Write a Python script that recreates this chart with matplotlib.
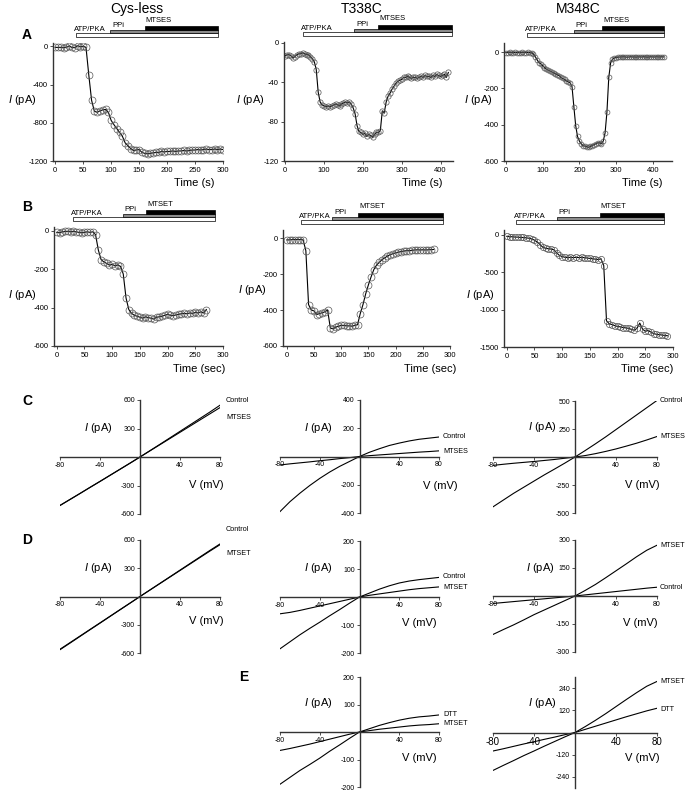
import matplotlib
matplotlib.use("Agg")
import matplotlib.pyplot as plt
from matplotlib.patches import Rectangle

plt.rcParams['font.family'] = ['Liberation Sans', 'DejaVu Sans']
plt.rcParams['mathtext.fontset'] = 'custom'
plt.rcParams['mathtext.it'] = 'Liberation Sans:italic'
plt.rcParams['mathtext.rm'] = 'Liberation Sans'
plt.rcParams['axes.unicode_minus'] = False

# ---------------- data: time courses ----------------
tA1 = list(range(0, 305, 5))
iA1 = [-10, -12, -10, -15, -8, 5, -12, -15, 8, -5, 0, -10, -300, -565, -680, -690, -675, -665,
       -660, -690, -775, -820, -860, -900, -940, -1010, -1040, -1070, -1090, -1085, -1080, -1110,
       -1120, -1125, -1120, -1115, -1110, -1110, -1100, -1105, -1100, -1100, -1095, -1100, -1095,
       -1095, -1090, -1095, -1090, -1085, -1085, -1080, -1085, -1080, -1075, -1080, -1080, -1075,
       -1080, -1075, -1080]

tA2 = list(range(0, 425, 5))
iA2 = [-13, -12, -12, -13, -15, -14, -12, -11, -11, -10, -11, -12, -12, -14, -16, -19, -27, -50,
       -60, -63, -64, -65, -64, -65, -64, -63, -62, -63, -64, -62, -61, -60, -61, -60, -62, -66,
       -72, -84, -90, -91, -93, -92, -95, -93, -94, -96, -93, -91, -91, -89, -69, -71, -60, -54,
       -51, -47, -44, -41, -39, -38, -37, -35, -35, -34, -35, -36, -35, -35, -36, -35, -34, -35,
       -33, -34, -34, -35, -33, -34, -32, -33, -34, -33, -32, -35, -30]

tA3 = list(range(0, 435, 5))
iA3 = [-3, -3, -2, -3, -3, -2, -3, -3, -3, -2, -3, -3, -2, -3, -4, -10, -25, -42, -58, -65,
       -75, -85, -95, -100, -105, -110, -115, -120, -125, -130, -140, -145, -150, -160, -165,
       -170, -190, -300, -405, -465, -490, -505, -515, -518, -522, -525, -520, -515, -510, -505,
       -500, -500, -505, -490, -445, -330, -140, -60, -40, -33, -30, -28, -27, -27, -26, -27,
       -28, -27, -26, -27, -27, -28, -26, -27, -27, -26, -27, -28, -27, -26, -27, -27, -26,
       -27, -27, -26, -27]

tB1 = list(range(0, 275, 5))
iB1 = [-8, -10, -5, -3, -2, -5, -3, -5, -8, -10, -8, -5, -8, -5, -20, -100, -150, -162, -170,
       -178, -175, -182, -178, -185, -225, -350, -410, -430, -440, -445, -450, -455, -448, -452,
       -455, -460, -450, -448, -445, -440, -435, -440, -442, -438, -435, -432, -430, -432, -428,
       -430, -425, -428, -422, -428, -410]

tB2 = list(range(0, 275, 5))
iB2 = [-10, -10, -8, -8, -8, -8, -10, -70, -370, -400, -405, -425, -420, -415, -410, -400,
       -500, -505, -495, -490, -485, -485, -488, -488, -490, -485, -482, -420, -370, -310, -260,
       -215, -175, -150, -135, -120, -110, -100, -92, -87, -82, -78, -75, -72, -70, -70, -68,
       -66, -65, -66, -65, -66, -65, -64, -63]

tB3 = list(range(0, 295, 5))
iB3 = [-20, -25, -25, -30, -30, -35, -35, -40, -45, -55, -70, -95, -130, -165, -180, -185,
       -190, -200, -240, -275, -290, -300, -305, -300, -305, -300, -305, -300, -305, -310, -315,
       -320, -325, -330, -320, -410, -1150, -1190, -1200, -1215, -1225, -1230, -1240, -1245,
       -1250, -1265, -1275, -1250, -1180, -1260, -1290, -1280, -1300, -1320, -1330, -1335,
       -1340, -1345, -1350]

# ---------------- data: I-V curves ----------------
V = list(range(-80, 90, 10))
C1_control = [-510, -447, -384, -320, -257, -193, -129, -65, 0, 67, 134, 202, 270, 338, 406, 474, 545]
C1_mtses = [-510, -447, -384, -320, -257, -193, -129, -65, 0, 65, 130, 195, 260, 325, 390, 455, 520]
C2_control = [-390, -320, -260, -205, -155, -110, -70, -35, 0, 30, 55, 78, 95, 110, 122, 130, 138]
C2_mtses = [-60, -52, -45, -38, -30, -23, -15, -8, 0, 6, 11, 16, 21, 26, 31, 35, 40]
C3_control = [-445, -385, -325, -270, -215, -160, -108, -55, 0, 58, 118, 180, 245, 310, 375, 440, 505]
C3_mtses = [-75, -65, -56, -48, -40, -31, -22, -11, 0, 13, 30, 50, 72, 97, 123, 152, 183]
D1_control = [-560, -490, -420, -350, -280, -210, -140, -70, 0, 70, 140, 210, 280, 350, 420, 490, 558]
D1_mtset = [-565, -495, -424, -353, -283, -212, -141, -71, 0, 69, 138, 207, 276, 345, 414, 483, 550]
D2_control = [-185, -160, -135, -112, -90, -67, -45, -22, 0, 14, 28, 40, 50, 57, 62, 66, 70]
D2_mtset = [-60, -55, -48, -40, -32, -24, -16, -8, 0, 6, 11, 16, 21, 26, 30, 33, 36]
D3_mtset = [-206, -180, -155, -128, -100, -75, -50, -25, 0, 30, 62, 98, 135, 172, 210, 245, 272]
D3_control = [-40, -35, -30, -25, -20, -15, -10, -5, 0, 6, 12, 18, 24, 30, 36, 42, 47]
E2_dtt = [-190, -165, -140, -118, -95, -70, -47, -23, 0, 12, 24, 34, 43, 50, 55, 58, 62]
E2_mtset = [-67, -60, -52, -44, -35, -26, -17, -8, 0, 5, 10, 14, 18, 22, 25, 27, 30]
E3_mtset = [-205, -178, -152, -125, -100, -74, -49, -24, 0, 32, 66, 102, 140, 178, 215, 250, 276]
E3_dtt = [-100, -88, -75, -62, -50, -37, -25, -12, 0, 17, 34, 51, 68, 85, 101, 117, 131]

titles = ["Cys-less", "T338C", "M348C"]

W, H = 685, 790
fig = plt.figure(figsize=(W / 100, H / 100), dpi=100)


def add_ax(l, t, r, b):
    return fig.add_axes([l / W, 1 - b / H, (r - l) / W, (b - t) / H])


def ftext(x, y, s, **kw):
    fig.text(x / W, 1 - y / H, s, **kw)


def time_ax(box, xlim, ylim, xticks, yticks, t, y, bars, reagent, ms=4.5):
    l, tp, r, b = box
    ax = add_ax(l, tp, r, b)
    hpx = b - tp
    ax.plot(t, y, color='black', lw=0.8, marker='o', ms=ms, mfc='none', mec='#555555', mew=0.5)
    ax.set_xlim(xlim)
    ax.set_ylim(ylim)
    ax.set_xticks(xticks)
    ax.set_yticks(yticks)
    for s in ['top', 'right']:
        ax.spines[s].set_visible(False)
    for s in ['left', 'bottom']:
        ax.spines[s].set_linewidth(1.0)
        ax.spines[s].set_color('#333333')
    ax.tick_params(labelsize=5.5, length=2, width=0.6, pad=2, colors='#333333', labelcolor='black')
    tr = ax.get_xaxis_transform()
    atp0, ppi0, mts0, end = bars
    specs = [(atp0, 6.3, 3.3, 'white'), (ppi0, 9.8, 3.3, '#8c8c8c'), (mts0, 13.3, 3.4, 'black')]
    for x0, off, hh, fc in specs:
        ax.add_patch(Rectangle((x0, 1 + off / hpx), end - x0, hh / hpx, transform=tr,
                               facecolor=fc, edgecolor='black', lw=0.5, clip_on=False))
    xs = (xlim[1] - xlim[0]) / (r - l)
    ax.text(atp0 - 2 * xs, 1 + 10 / hpx, "ATP/PKA", transform=tr, fontsize=5.5, va='bottom', ha='left')
    ax.text(ppi0 + 2 * xs, 1 + 14 / hpx, "PPi", transform=tr, fontsize=5.5, va='bottom', ha='left')
    ax.text(mts0 + 1 * xs, 1 + 19.5 / hpx, reagent, transform=tr, fontsize=5.5, va='bottom', ha='left')
    return ax


# Row A
time_ax((53, 43, 223, 161), (-4, 300), (-1200, 35), range(0, 301, 50), [0, -400, -800, -1200],
        tA1, iA1, (37, 98, 160, 291), "MTSES", ms=5)
time_ax((284, 42, 453, 161), (-3, 432), (-120, 1), range(0, 401, 100), [0, -40, -80, -120],
        tA2, iA2, (46, 178, 239, 430), "MTSES", ms=3.8)
time_ax((504, 43, 672, 161), (-5, 452), (-600, 50), range(0, 401, 100), [0, -200, -400, -600],
        tA3, iA3, (57, 185, 262, 430), "MTSES", ms=3.5)
# Row B
time_ax((54, 227, 223, 346), (-5, 300), (-600, 20), range(0, 301, 50), [0, -200, -400, -600],
        tB1, iB1, (29, 119, 161, 285), "MTSET", ms=5)
time_ax((283, 230, 450, 346), (-7, 300), (-600, 45), range(0, 301, 50), [0, -200, -400, -600],
        tB2, iB2, (26, 83, 131, 287), "MTSET", ms=5)
time_ax((504, 230, 673, 347), (-5, 300), (-1500, 65), range(0, 301, 50), [0, -500, -1000, -1500],
        tB3, iB3, (16, 90, 168, 284), "MTSET", ms=4.5)

ilabel = r'$\mathit{I}$ (pA)'
for x, y in [(22, 100), (250, 100), (478, 100), (22, 295), (252, 290), (480, 295)]:
    ftext(x, y, ilabel, fontsize=8, ha='center', va='center')
for x in [194, 422, 642]:
    ftext(x, 183, "Time (s)", fontsize=8, ha='center', va='center')
for x in [199, 430, 647]:
    ftext(x, 369, "Time (sec)", fontsize=8, ha='center', va='center')


def iv_ax(box, ylim, yticks, curves, labels, xfs=5):
    l, tp, r, b = box
    ax = add_ax(l, tp, r, b)
    for ys in curves:
        ax.plot(V, ys, color='black', lw=0.8)
    ax.set_xlim(-80, 80)
    ax.set_ylim(ylim)
    ax.set_xticks([-80, -40, 40, 80])
    ax.set_yticks(yticks)
    for s in ['top', 'right']:
        ax.spines[s].set_visible(False)
    for s in ['left', 'bottom']:
        ax.spines[s].set_position(('data', 0))
        ax.spines[s].set_linewidth(1.0)
        ax.spines[s].set_color('#333333')
    ax.tick_params(axis='y', labelsize=5, length=2, width=0.6, pad=1.5, colors='#333333',
                   labelcolor='black')
    ax.tick_params(axis='x', labelsize=xfs, length=2, width=0.6, pad=1.5, colors='#333333',
                   labelcolor='black')
    ax.patch.set_visible(False)
    for (xv, yv, s) in labels:
        ax.text(xv, yv, s, fontsize=5.2, ha='left', va='center', clip_on=False)
    return ax


iv_ax((60, 400, 220, 514), (-600, 600), [600, 300, -300, -600], [C1_control, C1_mtses],
      [(86, 600, "Control"), (86, 420, "MTSES")])
iv_ax((280, 400, 439, 513), (-400, 400), [400, 200, -200, -400], [C2_control, C2_mtses],
      [(84, 143, "Control"), (84, 37, "MTSES")])
iv_ax((493, 401, 657, 513), (-500, 500), [500, 250, -250, -500], [C3_control, C3_mtses],
      [(83, 500, "Control"), (83, 183, "MTSES")])
iv_ax((60, 540, 220, 653), (-600, 600), [600, 300, -300, -600], [D1_control, D1_mtset],
      [(86, 707, "Control"), (86, 460, "MTSET")])
iv_ax((280, 541, 439, 653), (-200, 200), [200, 100, -100, -200], [D2_control, D2_mtset],
      [(84, 72, "Control"), (84, 35, "MTSET")])
iv_ax((493, 540, 657, 652), (-300, 300), [300, 150, -150, -300], [D3_mtset, D3_control],
      [(83, 271, "MTSET"), (83, 47, "Control")])
iv_ax((280, 677, 439, 787), (-200, 200), [200, 100, -100, -200], [E2_dtt, E2_mtset],
      [(84, 62, "DTT"), (84, 32, "MTSET")])
iv_ax((493, 677, 657, 788), (-300, 300), [240, 120, -120, -240], [E3_mtset, E3_dtt],
      [(83, 276, "MTSET"), (83, 125, "DTT")], xfs=7)

for x, y in [(98, 428), (318, 428), (542, 427), (98, 568), (318, 568), (540, 568), (318, 703), (542, 703)]:
    ftext(x, y, ilabel, fontsize=8, ha='center', va='center')
for x, y in [(206, 485), (440, 486), (642, 485), (206, 621), (419, 623), (640, 623), (419, 758), (642, 758)]:
    ftext(x, y, "V (mV)", fontsize=8, ha='center', va='center')

for x, s in zip([137, 362, 578], titles):
    ftext(x, 9, s, fontsize=10, ha='center', va='center')
for x, y, s in [(27, 35, "A"), (27, 207, "B"), (27, 401, "C"), (27, 540, "D"), (244, 677, "E")]:
    ftext(x, y, s, fontsize=10, fontweight='bold', ha='center', va='center')

fig.savefig("out.png", dpi=100)
